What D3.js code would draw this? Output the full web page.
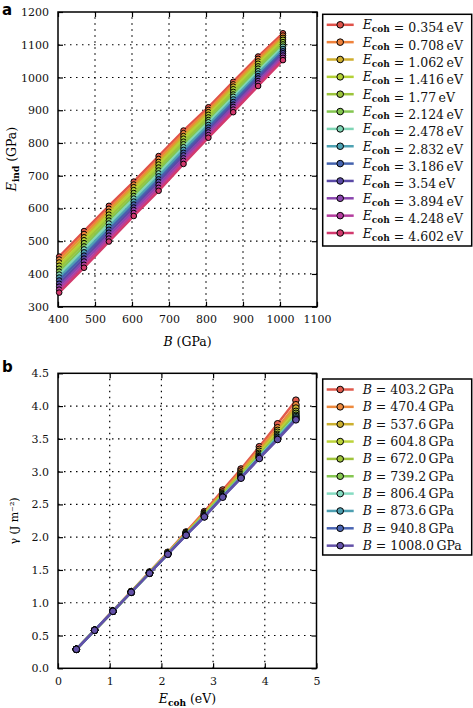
<!DOCTYPE html>
<html>
<head>
<meta charset="utf-8">
<script src="https://cdn.jsdelivr.net/npm/d3@7"></script>
<style>
  body { margin: 0; background: #fff; }
  svg { font-family: "DejaVu Serif", serif; }
</style>
</head>
<body>
<div id="chart"></div>
<script>
// panel a: bulk modulus B (GPa) on x, one line per cohesive energy
const bValues = [403.2, 470.4, 537.6, 604.8, 672.0, 739.2, 806.4, 873.6, 940.8, 1008.0];
const ecohLabels = ["0.354", "0.708", "1.062", "1.416", "1.77", "2.124", "2.478", "2.832", "3.186", "3.54", "3.894", "4.248", "4.602"];
const ecohValues = [0.354, 0.708, 1.062, 1.416, 1.77, 2.124, 2.478, 2.832, 3.186, 3.54, 3.894, 4.248, 4.602];

// E_ind (GPa) for each Ecoh, read at each B
const eind0354 = [453, 531, 608, 682, 760, 838, 909, 987, 1064, 1135];
const eind0708 = [444, 522, 599, 673, 751, 830, 901, 979, 1057, 1128];
const eind1062 = [435, 512, 590, 665, 742, 821, 894, 972, 1049, 1121];
const eind1416 = [425, 503, 581, 656, 734, 813, 886, 964, 1042, 1115];
const eind1770 = [416, 494, 572, 647, 725, 804, 878, 956, 1034, 1108];
const eind2124 = [407, 484, 563, 638, 716, 796, 870, 948, 1027, 1101];
const eind2478 = [398, 475, 554, 630, 707, 787, 863, 941, 1019, 1094];
const eind2832 = [389, 466, 544, 621, 698, 779, 855, 933, 1012, 1087];
const eind3186 = [380, 456, 535, 612, 689, 770, 847, 925, 1004, 1080];
const eind3540 = [370, 447, 526, 603, 681, 762, 839, 917, 997, 1074];
const eind3894 = [361, 438, 517, 595, 672, 753, 832, 910, 989, 1067];
const eind4248 = [352, 428, 508, 586, 663, 745, 824, 902, 982, 1060];
const eind4602 = [343, 419, 499, 577, 654, 736, 816, 894, 974, 1053];

const ecohColors = ["#e0524a", "#ef823c", "#cfae2e", "#b4d136", "#9cc43c", "#84c650", "#80d6b6", "#4ea2b3", "#4463ae", "#5a4aa6", "#8a45ae", "#b43c9e", "#d23a6e"];

// panel b: surface energy gamma (J m^-2) vs Ecoh, one line per B
const bLabels = ["403.2", "470.4", "537.6", "604.8", "672.0", "739.2", "806.4", "873.6", "940.8", "1008.0"];
const gamma4032 = [0.29, 0.58, 0.88, 1.17, 1.47, 1.77, 2.08, 2.39, 2.72, 3.04, 3.38, 3.73, 4.09];
const gamma4704 = [0.29, 0.58, 0.87, 1.17, 1.46, 1.76, 2.07, 2.37, 2.69, 3.01, 3.34, 3.67, 4.02];
const gamma5376 = [0.29, 0.58, 0.87, 1.17, 1.46, 1.76, 2.06, 2.36, 2.67, 2.98, 3.31, 3.63, 3.97];
const gamma6048 = [0.29, 0.58, 0.87, 1.16, 1.46, 1.75, 2.05, 2.35, 2.66, 2.96, 3.28, 3.60, 3.92];
const gamma6720 = [0.29, 0.58, 0.87, 1.16, 1.46, 1.75, 2.05, 2.34, 2.65, 2.95, 3.26, 3.57, 3.89];
const gamma7392 = [0.29, 0.58, 0.87, 1.16, 1.45, 1.75, 2.04, 2.33, 2.64, 2.93, 3.24, 3.55, 3.86];
const gamma8064 = [0.29, 0.58, 0.87, 1.16, 1.45, 1.75, 2.04, 2.32, 2.63, 2.92, 3.23, 3.53, 3.84];
const gamma8736 = [0.29, 0.58, 0.87, 1.16, 1.45, 1.74, 2.04, 2.32, 2.62, 2.91, 3.22, 3.52, 3.82];
const gamma9408 = [0.29, 0.58, 0.87, 1.16, 1.45, 1.74, 2.03, 2.31, 2.62, 2.91, 3.21, 3.50, 3.80];
const gamma10080 = [0.29, 0.58, 0.87, 1.16, 1.45, 1.74, 2.03, 2.31, 2.61, 2.90, 3.20, 3.49, 3.79];

const bColors = ["#e05a4c", "#ee8a3e", "#ccb030", "#bcd33a", "#a0c43c", "#86c752", "#86dcc2", "#4d9fb1", "#4a65b3", "#6351a8"];

const xTicksA = [400, 500, 600, 700, 800, 900, 1000, 1100];
const yTicksA = [300, 400, 500, 600, 700, 800, 900, 1000, 1100, 1200];
const xTicksB = [0, 1, 2, 3, 4, 5];
const yTicksB = [0, 0.5, 1, 1.5, 2, 2.5, 3, 3.5, 4, 4.5];

const eindSeries = [eind0354, eind0708, eind1062, eind1416, eind1770, eind2124, eind2478,
  eind2832, eind3186, eind3540, eind3894, eind4248, eind4602];
const gammaSeries = [gamma4032, gamma4704, gamma5376, gamma6048, gamma6720, gamma7392,
  gamma8064, gamma8736, gamma9408, gamma10080];

const svg = d3.select("#chart").append("svg").attr("width", 473).attr("height", 708);

function drawFrame(x, y, xTicks, yTicks, xFmt, yFmt) {
  const [x0, x1] = x.range();
  const [y0, y1] = y.range(); // y0 bottom, y1 top
  const g = svg.append("g");

  // dotted grid
  g.selectAll(".gx").data(xTicks.slice(1, -1)).enter().append("line")
    .attr("x1", (d) => x(d)).attr("x2", (d) => x(d)).attr("y1", y0).attr("y2", y1)
    .attr("stroke", "#000").attr("stroke-width", 1.2).attr("stroke-dasharray", "1.5,4.5");
  g.selectAll(".gy").data(yTicks.slice(1, -1)).enter().append("line")
    .attr("y1", (d) => y(d)).attr("y2", (d) => y(d)).attr("x1", x0).attr("x2", x1)
    .attr("stroke", "#000").attr("stroke-width", 1.2).attr("stroke-dasharray", "1.5,4.5");

  // axes with inward ticks on all four sides
  const axes = [
    [d3.axisBottom(x).tickFormat(xFmt), "translate(0," + y0 + ")", xTicks, true],
    [d3.axisTop(x), "translate(0," + y1 + ")", xTicks, false],
    [d3.axisLeft(y).tickFormat(yFmt), "translate(" + x0 + ",0)", yTicks, true],
    [d3.axisRight(y), "translate(" + x1 + ",0)", yTicks, false]
  ];
  axes.forEach(([ax, tr, ticks, labels]) => {
    const a = g.append("g").attr("transform", tr)
      .call(ax.tickValues(ticks).tickSizeInner(-5).tickSizeOuter(0).tickPadding(9));
    a.select(".domain").remove();
    a.selectAll("line").attr("stroke", "#000").attr("stroke-width", 1.2);
    a.selectAll("text").attr("font-family", "DejaVu Serif").attr("font-size", 11).attr("fill", "#111");
    if (!labels) a.selectAll("text").remove();
  });

  g.append("rect").attr("x", x0).attr("y", y1).attr("width", x1 - x0).attr("height", y0 - y1)
    .attr("fill", "none").attr("stroke", "#000").attr("stroke-width", 1.5);
  return g;
}

function drawSeries(g, xs, series, colors, x, y, r) {
  const line = d3.line().x((d) => x(d[0])).y((d) => y(d[1]));
  series.forEach((vals, i) => {
    const pts = vals.map((v, j) => [xs[j], v]);
    g.append("path").datum(pts).attr("d", line)
      .attr("fill", "none").attr("stroke", colors[i]).attr("stroke-width", 2.5);
    g.selectAll(null).data(pts).enter().append("circle")
      .attr("cx", (d) => x(d[0])).attr("cy", (d) => y(d[1])).attr("r", r)
      .attr("fill", colors[i]).attr("stroke", "#000").attr("stroke-width", 1);
  });
}

function drawLegend(left, top, w, h, labels, colors, sym, unit) {
  const g = svg.append("g");
  g.append("rect").attr("x", left).attr("y", top).attr("width", w).attr("height", h)
    .attr("fill", "#fff").attr("stroke", "#000").attr("stroke-width", 1.5);
  labels.forEach((lab, i) => {
    const cy = top + 10.5 + i * 17.35;
    g.append("line").attr("x1", left + 4).attr("x2", left + 31).attr("y1", cy).attr("y2", cy)
      .attr("stroke", colors[i]).attr("stroke-width", 2.5);
    g.append("circle").attr("cx", left + 17.5).attr("cy", cy).attr("r", 3.3)
      .attr("fill", colors[i]).attr("stroke", "#000").attr("stroke-width", 1);
    const t = g.append("text").attr("x", left + 40).attr("y", cy + 4.5)
      .attr("font-size", 12.5).attr("fill", "#111");
    sym(t);
    t.append("tspan").text(" = " + lab + "\u2009" + unit);
  });
}

// ---------- panel a ----------
const xa = d3.scaleLinear().domain([400, 1100]).range([58, 317]);
const ya = d3.scaleLinear().domain([300, 1200]).range([306.7, 12]);
const ga = drawFrame(xa, ya, xTicksA, yTicksA, d3.format("d"), d3.format("d"));
drawSeries(ga, bValues, eindSeries, ecohColors, xa, ya, 2.8);

drawLegend(322.7, 14.3, 149, 231.7, ecohLabels, ecohColors, (t) => {
  t.append("tspan").attr("font-style", "italic").text("E");
  t.append("tspan").attr("font-size", 9).attr("font-weight", "bold").attr("dy", 3).text("coh");
  t.append("tspan").attr("dy", -3).text("");
}, "eV");

svg.append("text").attr("x", 187.5).attr("y", 346).attr("text-anchor", "middle")
  .attr("font-size", 12.5).call((t) => {
    t.append("tspan").attr("font-style", "italic").text("B");
    t.append("tspan").text(" (GPa)");
  });
svg.append("text").attr("transform", "translate(16,159) rotate(-90)").attr("text-anchor", "middle")
  .attr("font-size", 12.5).call((t) => {
    t.append("tspan").attr("font-style", "italic").text("E");
    t.append("tspan").attr("font-size", 9).attr("font-weight", "bold").attr("dy", 3).text("ind");
    t.append("tspan").attr("dy", -3).text(" (GPa)");
  });

svg.append("text").attr("x", 2).attr("y", 15).attr("font-family", "DejaVu Sans")
  .attr("font-weight", "bold").attr("font-size", 15).text("a");

// ---------- panel b ----------
const xb = d3.scaleLinear().domain([0, 5]).range([58, 316.5]);
const yb = d3.scaleLinear().domain([0, 4.5]).range([668.3, 373.3]);
const gb = drawFrame(xb, yb, xTicksB, yTicksB, d3.format("d"), d3.format(".1f"));
drawSeries(gb, ecohValues, gammaSeries, bColors, xb, yb, 3.3);

drawLegend(322.7, 379, 149, 176, bLabels, bColors, (t) => {
  t.append("tspan").attr("font-style", "italic").text("B");
}, "GPa");

svg.append("text").attr("x", 187.5).attr("y", 703).attr("text-anchor", "middle")
  .attr("font-size", 12.5).call((t) => {
    t.append("tspan").attr("font-style", "italic").text("E");
    t.append("tspan").attr("font-size", 9).attr("font-weight", "bold").attr("dy", 3).text("coh");
    t.append("tspan").attr("dy", -3).text(" (eV)");
  });
svg.append("text").attr("transform", "translate(18,521) rotate(-90)").attr("text-anchor", "middle")
  .attr("font-size", 11).text("\u03b3 (J m\u207b\u00b2)");

svg.append("text").attr("x", 2).attr("y", 372).attr("font-family", "DejaVu Sans")
  .attr("font-weight", "bold").attr("font-size", 15).text("b");
</script>
</body>
</html>
